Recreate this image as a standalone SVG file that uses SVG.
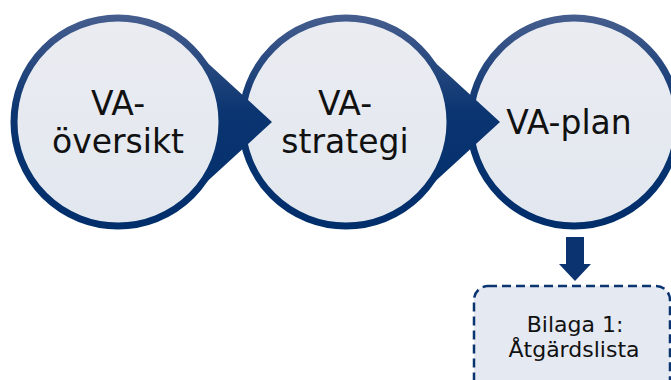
<svg xmlns="http://www.w3.org/2000/svg" width="671" height="380" viewBox="0 0 671 380">
  <defs>
    <linearGradient id="navy" gradientUnits="userSpaceOnUse" x1="0" y1="12" x2="0" y2="232">
      <stop offset="0" stop-color="#485f8f"/>
      <stop offset="0.45" stop-color="#0b3571"/>
      <stop offset="1" stop-color="#002e6b"/>
    </linearGradient>
    <linearGradient id="pale" x1="0" y1="0" x2="0" y2="1">
      <stop offset="0" stop-color="#eaecf1"/>
      <stop offset="1" stop-color="#e2e7ef"/>
    </linearGradient>
    <style>
      .circ { fill: url(#pale); stroke: url(#navy); stroke-width: 7; }
      .wedge { fill: url(#navy); }
      .lbl { font-family: "DejaVu Sans", Verdana, sans-serif; font-size: 33px; fill: #111; text-anchor: middle; }
      .small { font-family: "DejaVu Sans", Verdana, sans-serif; font-size: 22px; fill: #111; text-anchor: middle; }
      .box { fill: #e5e9f1; stroke: #0b3571; stroke-width: 2.5; stroke-dasharray: 9 5; }
      .down { fill: #0a3370; }
    </style>
  </defs>
  <g id="node-va-oversikt">
    <circle class="circ" cx="118" cy="122" r="104"/>
    <text class="lbl" x="118" y="115">VA-</text>
    <text class="lbl" x="118" y="153">översikt</text>
  </g>
  <g id="node-va-strategi">
    <circle class="circ" cx="346" cy="122" r="104"/>
    <text class="lbl" x="345" y="115">VA-</text>
    <text class="lbl" x="345" y="153">strategi</text>
  </g>
  <g id="node-va-plan">
    <circle class="circ" cx="574" cy="122" r="104"/>
    <text class="lbl" x="569" y="134">VA-plan</text>
  </g>
  <g id="node-bilaga">
    <rect class="box" x="474" y="286" width="196" height="120" rx="14" ry="14"/>
    <text class="small" x="575" y="332">Bilaga 1:</text>
    <text class="small" x="574" y="357">Åtgärdslista</text>
  </g>
  <g id="connectors">
    <path class="wedge" d="M188.2 45.3 L272 122 L188.2 198.7 A104 104 0 0 0 188.2 45.3 Z"/>
    <path class="wedge" d="M416.2 45.3 L500 122 L416.2 198.7 A104 104 0 0 0 416.2 45.3 Z"/>
    <path class="down" d="M566 237 H584 V264 H591 L575 281 L559 264 H566 Z"/>
  </g>
</svg>
